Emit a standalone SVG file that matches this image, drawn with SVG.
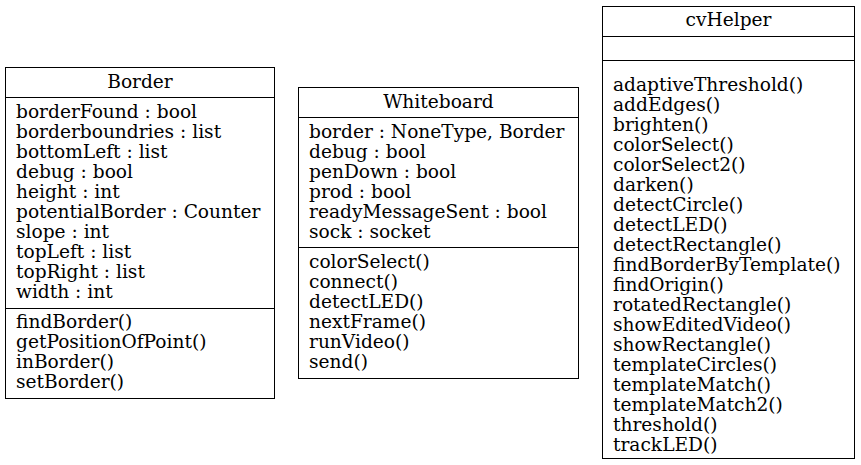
<svg xmlns="http://www.w3.org/2000/svg" width="861" height="465" viewBox="0 0 861 465">
<style>
.box{fill:#fff;stroke:#000;stroke-width:1}
.ln{stroke:#000;stroke-width:1}
text{font-family:"DejaVu Serif",serif;font-size:18.6px;fill:#000}
.t{text-anchor:middle}
</style>
<rect width="861" height="465" fill="#fff"/>
<g id="connectors"></g>
<g id="Border">
<rect class="box" x="5.5" y="67.5" width="269" height="331"/>
<line class="ln" x1="5.5" y1="97.5" x2="274.5" y2="97.5"/>
<line class="ln" x1="5.5" y1="308.5" x2="274.5" y2="308.5"/>
<text class="t" x="140" y="88">Border</text>
<text x="16" y="118">borderFound : bool</text>
<text x="16" y="138">borderboundries : list</text>
<text x="16" y="158">bottomLeft : list</text>
<text x="16" y="178">debug : bool</text>
<text x="16" y="198">height : int</text>
<text x="16" y="218">potentialBorder : Counter</text>
<text x="16" y="238">slope : int</text>
<text x="16" y="258">topLeft : list</text>
<text x="16" y="278">topRight : list</text>
<text x="16" y="298">width : int</text>
<text x="16" y="328">findBorder()</text>
<text x="16" y="348">getPositionOfPoint()</text>
<text x="16" y="368">inBorder()</text>
<text x="16" y="388">setBorder()</text>
</g>
<g id="Whiteboard">
<rect class="box" x="298.5" y="87.5" width="280" height="291"/>
<line class="ln" x1="298.5" y1="117.5" x2="578.5" y2="117.5"/>
<line class="ln" x1="298.5" y1="247.5" x2="578.5" y2="247.5"/>
<text class="t" x="438.5" y="108">Whiteboard</text>
<text x="309" y="138">border : NoneType, Border</text>
<text x="309" y="158">debug : bool</text>
<text x="309" y="178">penDown : bool</text>
<text x="309" y="198">prod : bool</text>
<text x="309" y="218">readyMessageSent : bool</text>
<text x="309" y="238">sock : socket</text>
<text x="309" y="268">colorSelect()</text>
<text x="309" y="288">connect()</text>
<text x="309" y="308">detectLED()</text>
<text x="309" y="328">nextFrame()</text>
<text x="309" y="348">runVideo()</text>
<text x="309" y="368">send()</text>
</g>
<g id="cvHelper">
<rect class="box" x="602.5" y="6.5" width="252" height="452"/>
<line class="ln" x1="602.5" y1="36.5" x2="854.5" y2="36.5"/>
<line class="ln" x1="602.5" y1="60.5" x2="854.5" y2="60.5"/>
<text class="t" x="728.5" y="26">cvHelper</text>
<text x="613" y="91">adaptiveThreshold()</text>
<text x="613" y="111">addEdges()</text>
<text x="613" y="131">brighten()</text>
<text x="613" y="151">colorSelect()</text>
<text x="613" y="171">colorSelect2()</text>
<text x="613" y="191">darken()</text>
<text x="613" y="211">detectCircle()</text>
<text x="613" y="231">detectLED()</text>
<text x="613" y="251">detectRectangle()</text>
<text x="613" y="271">findBorderByTemplate()</text>
<text x="613" y="291">findOrigin()</text>
<text x="613" y="311">rotatedRectangle()</text>
<text x="613" y="331">showEditedVideo()</text>
<text x="613" y="351">showRectangle()</text>
<text x="613" y="371">templateCircles()</text>
<text x="613" y="391">templateMatch()</text>
<text x="613" y="411">templateMatch2()</text>
<text x="613" y="431">threshold()</text>
<text x="613" y="451">trackLED()</text>
</g>
</svg>
